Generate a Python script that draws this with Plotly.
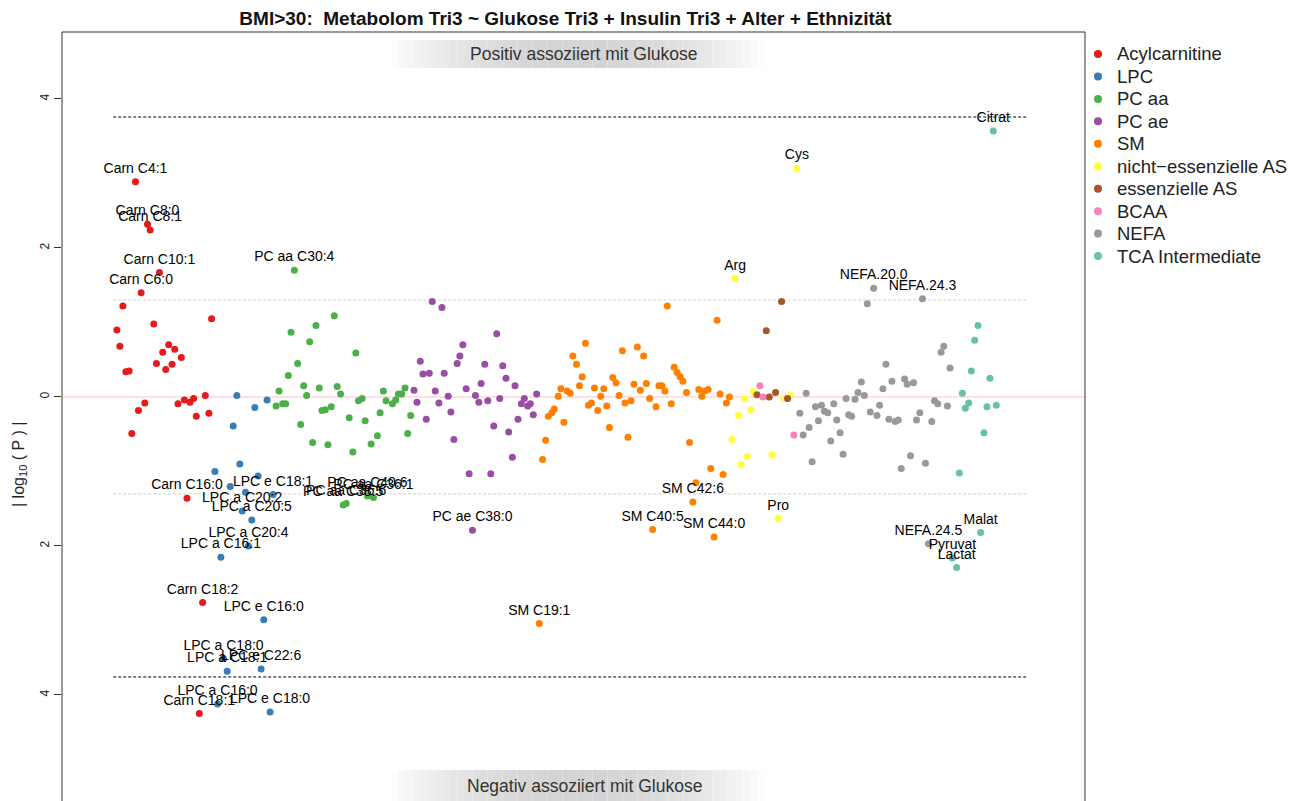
import plotly.graph_objects as go

# ---------------------------------------------------------------------------
# Data: metabolite position (x) and signed |log10(P)| (sign = direction)
# ---------------------------------------------------------------------------
acyl_pos = [6.1, 7.0, 7.9, 8.8, 9.8, 10.6, 11.7, 12.6, 13.4, 14.5, 15.3, 16.1,
            17.2, 18.0, 18.9, 19.9, 20.8, 21.7, 22.7, 23.5, 24.5, 25.5, 26.4,
            27.2, 28.1, 29.2, 30.0, 30.9, 31.9, 32.7, 33.8, 34.6]
acyl_val = [0.90, 0.68, 1.22, 0.34, 0.35, -0.49, 2.89, -0.18, 1.40, -0.08,
            2.32, 2.24, 0.98, 0.45, 1.67, 0.60, 0.37, 0.70, 0.44, 0.64, -0.09,
            0.53, -0.04, -1.36, -0.07, -0.02, -0.26, -4.25, -2.76, 0.02, -0.22,
            1.05]
acyl_lab = {11.7: "Carn C4:1", 13.4: "Carn C6:0", 15.3: "Carn C8:0",
            16.1: "Carn C8:1", 18.9: "Carn C10:1", 27.2: "Carn C16:0",
            30.9: "Carn C18:1", 31.9: "Carn C18:2"}

lpc_pos = [35.6, 36.4, 37.4, 38.2, 39.3, 40.2, 41.1, 42.2, 43.1, 43.8, 44.8,
           45.7, 46.7, 47.6, 48.6, 49.5, 50.3, 51.3, 52.2, 53.1]
lpc_val = [-1.00, -4.12, -2.15, -3.51, -3.68, -1.20, -0.39, 0.02, -0.90, -1.53,
           -1.28, -2.00, -1.65, -0.14, -1.06, -3.65, -2.99, -0.04, -4.23, -1.31]
lpc_lab = {36.4: "LPC a C16:0", 37.4: "LPC a C16:1", 38.2: "LPC a C18:0",
           39.3: "LPC a C18:1", 43.8: "LPC a C20:2", 45.7: "LPC a C20:4",
           46.7: "LPC a C20:5", 49.5: "LPC e C22:6", 50.3: "LPC e C16:0",
           52.2: "LPC e C18:0", 53.1: "LPC e C18:1"}

pcaa_pos = [54.0, 54.9, 56.0, 56.9, 57.7, 58.5, 59.5, 60.5, 61.4, 62.3, 63.2,
            64.1, 65.0, 66.0, 67.0, 67.8, 68.8, 69.6, 70.6, 71.5, 72.4, 73.4,
            74.2, 75.1, 76.0, 77.1, 78.0, 78.8, 79.9, 80.8, 81.5, 82.6, 83.3,
            84.5, 85.3, 86.3, 87.1, 89.0, 90.0, 90.8, 91.8, 92.8, 93.6, 94.5]
pcaa_val = [-0.12, 0.08, -0.09, -0.09, 0.29, 0.87, 1.70, 0.45, -0.37, 0.15,
            0.02, 0.74, -0.61, 0.96, 0.12, -0.18, -0.17, -0.64, -0.13, 1.09,
            0.14, 0.04, -1.45, -1.43, -0.28, -0.74, 0.59, -0.05, -0.02, -0.32,
            -1.33, -0.63, -1.35, -0.52, -0.21, 0.08, -0.05, -0.09, -0.04, 0.04,
            0.04, 0.12, -0.49, -0.25]
pcaa_lab = {59.5: "PC aa C30:4", 74.2: "PC aa C38:5", 75.1: "PC aa C36:6",
            81.5: "PC aa C40:6", 83.3: "PC aa C36:1"}

pcae_pos = [95.5, 96.4, 97.4, 98.2, 99.2, 100.1, 101.0, 101.9, 103.0, 103.9,
            104.6, 105.8, 106.6, 107.5, 108.5, 109.3, 110.2, 111.2, 112.1,
            113.1, 114.0, 115.0, 115.7, 116.8, 117.7, 118.6, 119.5, 120.4,
            121.3, 122.2, 123.2, 124.0, 125.1, 125.9, 126.8, 127.8, 128.7,
            129.7, 130.5, 131.4, 132.4]
pcae_val = [0.09, -0.07, 0.48, 0.31, -0.30, 0.32, 1.28, 0.08, -0.08, 1.20,
            0.32, 0.01, -0.20, -0.57, 0.45, 0.55, 0.70, 0.11, -1.03, -1.79,
            0.02, -0.07, 0.18, 0.44, -0.05, -1.03, -0.39, 0.85, -0.02, 0.42,
            0.25, -0.47, -0.81, 0.15, -0.30, -0.09, -0.02, -0.12, -0.09, -0.24,
            0.04]
pcae_lab = {113.1: "PC ae C38:0"}

sm_pos = [133.2, 134.2, 135.1, 135.9, 137.0, 137.7, 138.9, 139.7, 140.6, 141.6,
          142.5, 143.3, 144.4, 145.3, 146.1, 147.1, 148.0, 148.9, 149.8, 150.8,
          151.7, 152.6, 153.5, 154.3, 155.3, 156.3, 157.2, 158.2, 159.0, 159.9,
          160.8, 161.7, 162.7, 163.6, 164.6, 165.4, 166.4, 167.3, 168.3, 169.2,
          170.1, 171.0, 171.7, 172.9, 173.8, 174.7, 175.6, 176.4, 177.5, 178.4,
          179.4, 180.3, 181.2, 182.1, 183.0, 184.0, 184.8, 185.8, 186.7, 187.6,
          188.5, 189.5, 190.4]
sm_val = [-3.04, -0.84, -0.58, -0.26, -0.21, -0.16, 0.01, 0.11, -0.34, 0.08,
          0.05, 0.55, 0.44, 0.15, 0.27, 0.72, -0.11, -0.08, 0.12, -0.18, 0.01,
          0.11, -0.12, -0.41, 0.26, 0.19, 0.02, 0.62, -0.08, -0.54, -0.05, 0.17,
          0.67, 0.09, 0.55, 0.18, -0.02, -1.78, -0.13, 0.15, 0.15, 0.08, 1.22,
          -0.09, 0.40, 0.33, 0.27, 0.21, 0.06, -0.61, -1.41, -1.15, 0.10, 0.01,
          0.08, 0.10, -0.96, -1.88, 1.03, 0.04, -1.04, -0.08, 0.00]
sm_lab = {133.2: "SM C19:1", 167.3: "SM C40:5", 179.4: "SM C42:6",
          185.8: "SM C44:0"}

neaa_pos = [191.2, 192.1, 193.2, 193.9, 194.9, 195.8, 196.8, 197.6, 203.2,
            205.1, 206.9, 208.7, 210.7]
neaa_val = [-0.57, 1.59, -0.25, -0.91, -0.02, -0.80, -0.17, 0.07, -0.78, -1.63,
            -0.02, 0.02, 3.07]
neaa_lab = {192.1: "Arg", 205.1: "Pro", 210.7: "Cys"}

eaa_pos = [198.7, 201.5, 202.4, 204.3, 206.1, 207.9]
eaa_val = [0.03, 0.89, 0.00, 0.06, 1.28, -0.02]
eaa_lab = {}

bcaa_pos = [199.6, 200.5, 209.8]
bcaa_val = [0.15, 0.00, -0.51]
bcaa_lab = {}

nefa_pos = [211.6, 212.6, 213.5, 214.4, 215.3, 216.3, 217.2, 218.1, 219.0,
            220.0, 220.9, 221.8, 222.7, 223.7, 224.6, 225.5, 226.3, 227.2,
            228.2, 229.1, 230.1, 231.0, 231.9, 232.8, 233.8, 234.8, 235.6,
            236.6, 237.5, 238.4, 239.3, 240.3, 241.2, 242.1, 243.1, 243.9,
            244.9, 245.8, 246.7, 247.7, 248.5, 249.4, 250.3, 251.3, 252.1,
            253.1, 254.1, 254.9, 256.0, 256.8]
nefa_val = [-0.22, -0.51, 0.05, -0.41, -0.87, -0.13, -0.32, -0.11, -0.19,
            -0.21, -0.59, -0.09, -0.31, -0.48, -0.77, -0.02, -0.24, -0.26,
            -0.03, 0.06, 0.20, 0.02, 1.25, -0.20, 1.46, -0.25, -0.11, 0.11,
            0.44, -0.30, 0.21, -0.33, -0.31, -0.96, 0.24, 0.17, -0.79, 0.19,
            -0.31, -0.21, 1.32, -0.89, -1.97, -0.33, -0.05, -0.09, 0.60, 0.68,
            -0.12, 0.39]
nefa_lab = {233.8: "NEFA.20.0", 248.5: "NEFA.24.3", 250.3: "NEFA.24.5"}

tca_pos = [257.5, 258.8, 259.6, 260.5, 261.4, 262.4, 263.2, 264.2, 265.2,
           266.0, 267.0, 267.9, 268.8, 269.8, 270.7]
tca_val = [-2.16, -2.29, -1.02, 0.05, -0.15, -0.08, 0.35, 0.76, 0.96, -1.82,
           -0.48, -0.13, 0.25, 3.57, -0.11]
tca_lab = {257.5: "Pyruvat", 258.8: "Lactat", 266.0: "Malat", 269.8: "Citrat"}

groups = [
    ("Acylcarnitine", "#E41A1C", acyl_pos, acyl_val, acyl_lab),
    ("LPC", "#377EB8", lpc_pos, lpc_val, lpc_lab),
    ("PC aa", "#4DAF4A", pcaa_pos, pcaa_val, pcaa_lab),
    ("PC ae", "#984EA3", pcae_pos, pcae_val, pcae_lab),
    ("SM", "#FF7F00", sm_pos, sm_val, sm_lab),
    ("nicht\u2212essenzielle AS", "#FFFF33", neaa_pos, neaa_val, neaa_lab),
    ("essenzielle AS", "#A65628", eaa_pos, eaa_val, eaa_lab),
    ("BCAA", "#F781BF", bcaa_pos, bcaa_val, bcaa_lab),
    ("NEFA", "#999999", nefa_pos, nefa_val, nefa_lab),
    ("TCA Intermediate", "#66C2A5", tca_pos, tca_val, tca_lab),
]

sig_nominal = 1.301      # -log10(0.05)
sig_bonf = 3.758         # -log10(0.05 / n)
line_span = (5.0, 280.0)

Y_TICKS = [-4, -2, 0, 2, 4]
Y_TICKTEXT = ["4", "2", "0", "2", "4"]

X_RANGE = [-10.41, 297.4]
Y_RANGE = [-5.423, 4.899]

FONT = "Liberation Sans, Arial"

fig = go.Figure()

# reference lines
fig.add_shape(type="line", xref="paper", x0=0, x1=1, y0=0, y1=0,
              line=dict(color="#FFC0CB", width=1), layer="below")
for s in (sig_nominal, -sig_nominal):
    fig.add_shape(type="line", x0=line_span[0], x1=line_span[1], y0=s, y1=s,
                  line=dict(color="#CFCFCF", width=1, dash="3px,2px"),
                  layer="below")
for s in (sig_bonf, -sig_bonf):
    fig.add_shape(type="line", x0=line_span[0], x1=line_span[1], y0=s, y1=s,
                  line=dict(color="black", width=1, dash="3px,2px"),
                  layer="below")

# points
for name, color, pos, val, lab in groups:
    fig.add_trace(go.Scatter(
        x=pos, y=val, mode="markers", name=name, showlegend=False,
        marker=dict(size=7, color=color, line=dict(width=0)),
        hoverinfo="skip"))

# labels for significant metabolites, drawn above all points
for name, color, pos, val, lab in groups:
    lx = [p for p in pos if p in lab]
    ly = [v for p, v in zip(pos, val) if p in lab]
    lt = [lab[p] for p in lx]
    if not lx:
        continue
    fig.add_trace(go.Scatter(
        x=lx, y=ly, mode="markers+text", text=lt, textposition="top center",
        marker=dict(size=7, opacity=0),
        textfont=dict(family=FONT, size=14, color="#000000"),
        showlegend=False, hoverinfo="skip"))

# frame (left, right, top)
for x0, x1, y0, y1 in ((0, 0, 0, 1), (1, 1, 0, 1), (0, 1, 1, 1)):
    fig.add_shape(type="line", xref="paper", yref="paper",
                  x0=x0, x1=x1, y0=y0, y1=y1,
                  line=dict(color="#333333", width=1))

# shaded direction banners
def banner(y_lo, y_hi, text):
    n = 50
    x_lo, x_hi = 0.3206, 0.6872
    for k in range(n):
        t = (k + 0.5) / n
        d = abs(t - 0.5) * 2
        g = int(212 + 43 * d ** 2)
        fig.add_shape(type="rect", xref="paper", yref="paper",
                      x0=x_lo + (x_hi - x_lo) * k / n,
                      x1=x_lo + (x_hi - x_lo) * (k + 1) / n,
                      y0=y_lo, y1=y_hi, line=dict(width=0),
                      fillcolor=f"rgb({g},{g},{g})", layer="below")
    fig.add_annotation(xref="paper", yref="paper", x=0.5103,
                       y=(y_lo + y_hi) / 2,
                       xanchor="center", yanchor="middle",
                       text=text, showarrow=False,
                       font=dict(family=FONT, size=17.5, color="#333333"))

banner(0.9532, 0.9896, "Positiv assoziiert mit Glukose")
banner(0.0, 0.0403, "Negativ assoziiert mit Glukose")

# legend drawn as symbols + text to the right of the panel
leg_x = 1.0127
for k, (name, color, *_rest) in enumerate(groups):
    yk = 1 - (22 + 22.45 * k) / 769
    fig.add_shape(type="circle", xref="paper", yref="paper",
                  xsizemode="pixel", ysizemode="pixel",
                  xanchor=leg_x, yanchor=yk, x0=-4, x1=4, y0=-4, y1=4,
                  fillcolor=color, line=dict(width=0))
    fig.add_annotation(xref="paper", yref="paper", x=1.0293, y=yk,
                       xanchor="left", yanchor="middle", showarrow=False,
                       text=name,
                       font=dict(family=FONT, size=18.5, color="#222222"))

# y axis title
fig.add_annotation(xref="paper", yref="paper", x=-0.041, y=0.437,
                   xanchor="center", yanchor="middle",
                   text="| log<sub>10</sub> ( P ) |", textangle=-90,
                   showarrow=False,
                   font=dict(family=FONT, size=16, color="#222222"))

fig.update_layout(
    width=1303, height=801,
    margin=dict(l=62, r=218, t=32, b=0),
    paper_bgcolor="white", plot_bgcolor="white",
    showlegend=False,
    title=dict(text="<b>BMI>30:  Metabolom Tri3 ~ Glukose Tri3 + Insulin Tri3 + Alter + Ethnizität</b>",
               x=0.4340, xanchor="center", y=1 - 18 / 801, yanchor="middle",
               font=dict(family=FONT, size=19, color="#111111")),
    xaxis=dict(range=X_RANGE, showgrid=False, zeroline=False,
               showticklabels=False, ticks="", showline=False),
    yaxis=dict(range=Y_RANGE, showgrid=False, zeroline=False,
               tickvals=Y_TICKS, ticktext=Y_TICKTEXT, tickangle=-90,
               ticks="outside", ticklen=7, tickcolor="#333333",
               tickfont=dict(family=FONT, size=12, color="#222222"),
               showline=False),
)

fig.write_html("out.html")
